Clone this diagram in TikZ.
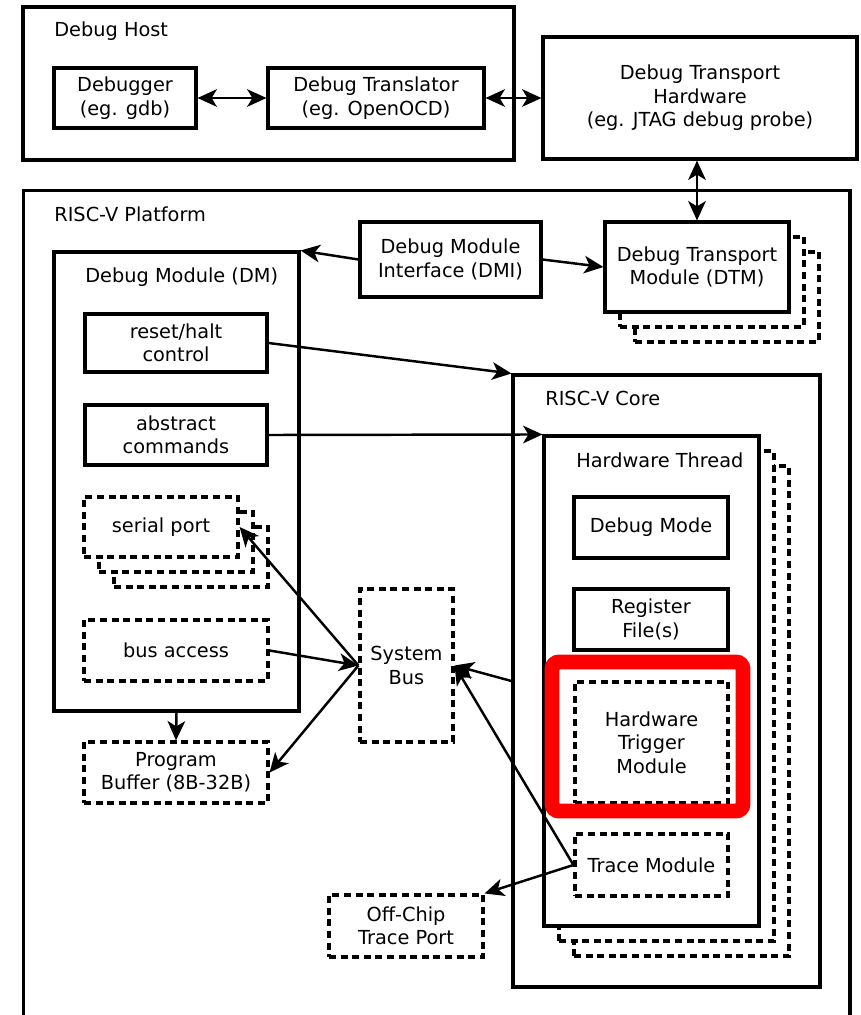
\documentclass[tikz,border=0pt]{standalone}
\usepackage{fontspec}
\setmainfont{DejaVu Sans}
\usepackage{tikz}
\usetikzlibrary{arrows.meta,positioning,calc}
\usepackage{xcolor}

\begin{document}
\begin{tikzpicture}[
  x=0.02cm, y=-0.02cm,
  font=\fontsize{11}{13.3}\selectfont,
  box/.style={draw,line width=1.8pt,fill=white,align=center,inner sep=2pt},
  dashbox/.style={box,line width=1.8pt,dash pattern=on 4pt off 2.6pt},
  frame/.style={draw,line width=1.8pt,fill=white,inner sep=0pt},
  title/.style={anchor=west,inner sep=0pt},
  arrow/.style={-{Stealth[length=11pt,width=10pt,inset=3pt]},line width=1.4pt},
  twoway/.style={{Stealth[length=11pt,width=10pt,inset=3pt]}-{Stealth[length=11pt,width=10pt,inset=3pt]},line width=1.4pt},
  highlight/.style={draw=red,line width=8.5pt,rounded corners=4pt}
]
\useasboundingbox (0,0) rectangle (861,1015);

% debug host side
\node[frame,minimum width=9.82cm,minimum height=3.06cm] (host) at (268.5,83.5) {};
\node[title] (hosttitle) at (54,31) {Debug Host};
\node[box,minimum width=2.84cm,minimum height=1.2cm] (dbgr) at (125,98) {Debugger\\(eg. gdb)};
\node[box,minimum width=4.32cm,minimum height=1.2cm] (trans) at (376,98) {Debug Translator\\(eg. OpenOCD)};
\node[box,minimum width=6.28cm,minimum height=2.44cm] (dth) at (700,98) {Debug Transport\\Hardware\\(eg. JTAG debug probe)};

% platform
\node[frame,minimum width=16.54cm,minimum height=16.8cm] (platform) at (436.5,610) {};
\node[title] (platformtitle) at (54,214) {RISC-V Platform};
\node[frame,minimum width=4.9cm,minimum height=9.18cm] (dm) at (176.5,481.5) {};
\node[title] (dmtitle) at (85,277) {Debug Module (DM)};
\node[box,minimum width=3.62cm,minimum height=1.5cm] (dmi) at (450.5,259.5) {Debug Module\\Interface (DMI)};
\node[dashbox,minimum width=3.68cm,minimum height=1.8cm] (dtmC) at (727,297) {};
\node[dashbox,minimum width=3.68cm,minimum height=1.8cm] (dtmB) at (712,282) {};
\node[box,minimum width=3.68cm,minimum height=1.8cm] (dtm) at (697,267) {Debug Transport\\Module (DTM)};

\node[box,minimum width=3.64cm,minimum height=1.16cm] (reset) at (176,343) {reset/halt\\control};
\node[box,minimum width=3.64cm,minimum height=1.2cm] (abs) at (176,435) {abstract\\commands};
\node[dashbox,minimum width=3.08cm,minimum height=1.2cm] (serialC) at (191,557) {};
\node[dashbox,minimum width=3.08cm,minimum height=1.2cm] (serialB) at (176,542) {};
\node[dashbox,minimum width=3.08cm,minimum height=1.2cm] (serial) at (161,527) {serial port};
\node[dashbox,minimum width=3.68cm,minimum height=1.22cm] (busacc) at (176,650.5) {bus access};
\node[dashbox,minimum width=3.68cm,minimum height=1.22cm] (progbuf) at (176,772.5) {Program\\Buffer (8B-32B)};
\node[dashbox,minimum width=1.86cm,minimum height=3.06cm] (sysbus) at (406.5,665.5) {System\\Bus};
\node[dashbox,minimum width=3.08cm,minimum height=1.24cm] (offchip) at (406,926) {Off-Chip\\Trace Port};

% core
\node[frame,minimum width=6.14cm,minimum height=12.24cm] (core) at (666.5,681) {};
\node[title] (coretitle) at (545,398) {RISC-V Core};
\node[dashbox,minimum width=4.3cm,minimum height=9.8cm] (hartC) at (681.5,711) {};
\node[dashbox,minimum width=4.3cm,minimum height=9.8cm] (hartB) at (666.5,696) {};
\node[frame,minimum width=4.3cm,minimum height=9.8cm] (hart) at (651.5,681) {};
\node[title] (harttitle) at (576,460) {Hardware Thread};
\node[box,minimum width=3.08cm,minimum height=1.22cm] (dmode) at (651,527.5) {Debug Mode};
\node[box,minimum width=3.08cm,minimum height=1.22cm] (regf) at (651,619.5) {Register\\File(s)};
\node[dashbox,minimum width=3.06cm,minimum height=2.42cm] (trig) at (651.5,742.5) {Hardware\\Trigger\\Module};
\node[dashbox,minimum width=3.06cm,minimum height=1.24cm] (trace) at (651.5,865) {Trace Module};

% connections
\draw[twoway] (dbgr) -- (trans);
\draw[twoway] (trans) -- (trans -| dth.west);
\draw[twoway] (dtm.north) -- (dtm.north |- dth.south);
\draw[arrow] (dmi.west) -- (dm.north east);
\draw[arrow] (dmi.east) -- (dtm.west);
\draw[arrow] (reset.east) -- (core.north west);
\draw[arrow] (abs.east) -- (hart.north west);
\draw[arrow] (busacc.east) -- (sysbus.west);
\draw[arrow] (sysbus.west) -- (serial.east);
\draw[arrow] (sysbus.west) -- (progbuf.east);
\draw[arrow] (dm.south) -- (progbuf.north);
\draw[arrow] (core.west) -- (sysbus.east);
\draw[arrow] (trace.west) -- (sysbus.east);
\draw[arrow] (trace.west) -- (offchip.north east);

% highlight
\node[highlight,minimum width=3.82cm,minimum height=2.98cm] (mark) at (647.5,736.5) {};
\end{tikzpicture}
\end{document}
